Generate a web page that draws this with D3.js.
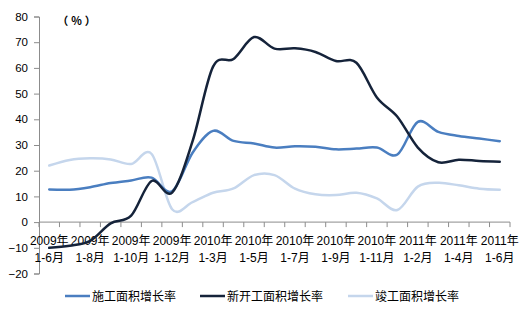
<!DOCTYPE html>
<html>
<head>
<meta charset="utf-8">
<script src="https://cdn.jsdelivr.net/npm/d3@7"></script>
<style>
  html, body { margin: 0; padding: 0; background: #fff; }
  svg { display: block; }
  text { font-family: "Liberation Sans", Arial, "Noto Sans CJK SC", sans-serif; fill: #000; }
</style>
</head>
<body>
<svg id="chart" width="523" height="324"></svg>
<script>
// ---- data ----
const categories = [
  "2009年 1-6月", "2009年 1-7月", "2009年 1-8月", "2009年 1-9月", "2009年 1-10月", "2009年 1-11月", "2009年 1-12月",
  "2010年 1-2月", "2010年 1-3月", "2010年 1-4月", "2010年 1-5月", "2010年 1-6月", "2010年 1-7月", "2010年 1-8月",
  "2010年 1-9月", "2010年 1-10月", "2010年 1-11月", "2010年 1-12月",
  "2011年 1-2月", "2011年 1-3月", "2011年 1-4月", "2011年 1-5月", "2011年 1-6月"
];
const shigong = [12.7, 12.6, 13.6, 15.2, 16.2, 17.3, 12.0, 27.0, 35.5, 31.6, 30.6, 29.0, 29.5, 29.3, 28.3, 28.6, 29.0, 26.3, 39.0, 35.1, 33.5, 32.5, 31.5];
const xinkaigong = [-10.0, -9.2, -7.3, -0.5, 2.5, 16.0, 11.5, 31.5, 60.5, 63.5, 72.0, 67.5, 67.6, 66.2, 62.7, 62.0, 48.5, 41.0, 29.0, 23.3, 24.3, 23.8, 23.5];
const jungong = [22.0, 24.2, 24.8, 24.4, 22.6, 26.5, 5.0, 7.8, 11.4, 13.1, 18.3, 18.3, 13.0, 10.8, 10.5, 11.4, 9.2, 4.7, 13.8, 15.3, 14.3, 13.0, 12.6];
const seriesNames = ["施工面积增长率", "新开工面积增长率", "竣工面积增长率"];
const yTicks = [-20, -10, 0, 10, 20, 30, 40, 50, 60, 70, 80];
const unitLabel = "（%）";

// ---- layout ----
const svg = d3.select("#chart");
const plotLeft = 39, plotRight = 510, plotTop = 16.5, plotBottom = 273.5;
const colors = ["#4a7ec0", "#15233a", "#c5d6ec"];

const x = d3.scaleBand().domain(categories).range([plotLeft, plotRight]).padding(0);
const y = d3.scaleLinear().domain([-20, 80]).range([plotBottom, plotTop]);

// Y axis
const yAxis = svg.append("g").attr("transform", `translate(${plotLeft},0)`)
  .call(d3.axisLeft(y).tickValues(yTicks).tickSize(5).tickPadding(6).tickFormat(d3.format("d")));
yAxis.select(".domain").attr("stroke", "#8c8c8c");
yAxis.selectAll(".tick line").attr("stroke", "#8c8c8c");
yAxis.selectAll(".tick text").style("font-size", "11.5px").attr("fill", "#000");

// X axis at y = 0
const y0 = y(0);
const xg = svg.append("g");
xg.append("line").attr("x1", plotLeft).attr("x2", plotRight).attr("y1", y0).attr("y2", y0).attr("stroke", "#8c8c8c");
const boundaries = categories.map(c => x(c)).concat([x(categories[categories.length - 1]) + x.bandwidth()]);
xg.selectAll("line.tk").data(boundaries).enter().append("line")
  .attr("class", "tk")
  .attr("x1", d => d).attr("x2", d => d)
  .attr("y1", y0).attr("y2", y0 + 5).attr("stroke", "#8c8c8c");

// X labels (every other category)
const lab = xg.selectAll("text.xl").data(categories.filter((c, i) => i % 2 === 0)).enter()
  .append("text").attr("class", "xl")
  .attr("text-anchor", "middle")
  .style("font-size", "12px");
lab.append("tspan").attr("x", d => x(d) + x.bandwidth() / 2).attr("y", 244.5).text(d => d.split(" ")[0]);
lab.append("tspan").attr("x", d => x(d) + x.bandwidth() / 2).attr("y", 261.5).text(d => d.split(" ")[1]);

// unit label
svg.append("text").attr("x", 78).attr("y", 25).attr("text-anchor", "middle")
  .style("font-size", "11px").style("font-weight", "bold").style("letter-spacing", "3px")
  .style("font-family", "'Noto Sans CJK SC', sans-serif").text(unitLabel);

// lines
const line = d3.line()
  .x((d, i) => x(categories[i]) + x.bandwidth() / 2)
  .y(d => y(d))
  .curve(d3.curveCardinal.tension(0));

const drawOrder = [[jungong, 2], [shigong, 0], [xinkaigong, 1]];
drawOrder.forEach(([vals, ci]) => {
  svg.append("path").datum(vals)
    .attr("d", line)
    .attr("fill", "none")
    .attr("stroke", colors[ci])
    .attr("stroke-width", 2.5)
    .attr("stroke-linejoin", "round")
    .attr("stroke-linecap", "round");
});

// legend
const legendX = [65, 200, 348];
const lg = svg.append("g");
seriesNames.forEach((name, i) => {
  lg.append("line").attr("x1", legendX[i]).attr("x2", legendX[i] + 25)
    .attr("y1", 296).attr("y2", 296).attr("stroke", colors[i]).attr("stroke-width", 2.5);
  lg.append("text").attr("x", legendX[i] + 27).attr("y", 300.5)
    .style("font-size", "12px").style("font-family", "'Noto Sans CJK SC', sans-serif").text(name);
});
</script>
</body>
</html>
